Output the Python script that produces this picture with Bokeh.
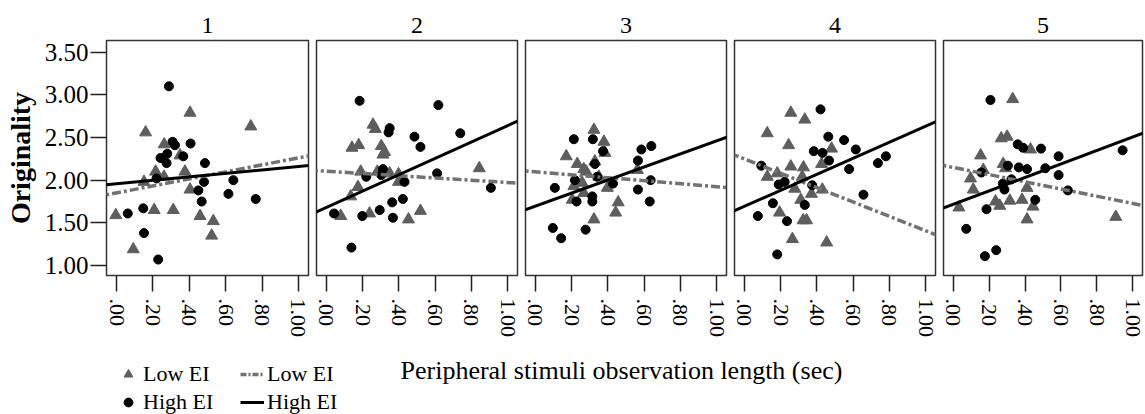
import math
from bokeh.plotting import figure
from bokeh.layouts import row, column
from bokeh.models import (Slope, FixedTicker, CustomJSTickFormatter, Label,
                          Legend, LegendItem, Range1d)
from bokeh.embed import file_html
from bokeh.resources import INLINE

# ---------------- data ----------------
panel_titles = ["1", "2", "3", "4", "5"]
x_ticks = [0.0, 0.2, 0.4, 0.6, 0.8, 1.0]
y_ticks = [1.0, 1.5, 2.0, 2.5, 3.0, 3.5]
x_label = "Peripheral stimuli observation length (sec)"
y_label = "Originality"
legend_labels = ["Low EI", "High EI"]

p1_high_x = [0.288, 0.062, 0.147, 0.151, 0.229, 0.220, 0.242, 0.279, 0.275, 0.308,
             0.321, 0.367, 0.407, 0.450, 0.468, 0.481, 0.486, 0.615, 0.642, 0.765]
p1_high_y = [3.10, 1.61, 1.67, 1.38, 1.07, 2.02, 2.26, 2.31, 2.20, 2.45,
             2.41, 2.28, 2.43, 1.88, 1.75, 1.98, 2.20, 1.84, 2.00, 1.78]
p1_low_x = [-0.004, 0.092, 0.160, 0.151, 0.215, 0.262, 0.261, 0.207, 0.312, 0.349,
            0.376, 0.404, 0.404, 0.459, 0.532, 0.523, 0.738]
p1_low_y = [1.59, 1.19, 2.56, 1.98, 2.10, 2.42, 2.04, 1.65, 1.65, 2.29,
            2.10, 2.79, 1.89, 1.58, 1.52, 1.35, 2.63]

p2_high_x = [0.183, 0.349, 0.343, 0.486, 0.519, 0.618, 0.739, 0.312, 0.220, 0.303,
             0.431, 0.611, 0.908, 0.042, 0.198, 0.294, 0.363, 0.422, 0.367, 0.138]
p2_high_y = [2.93, 2.61, 2.56, 2.51, 2.39, 2.88, 2.55, 2.13, 2.04, 2.06,
             1.98, 2.08, 1.91, 1.61, 1.58, 1.65, 1.74, 1.78, 1.56, 1.21]
p2_low_x = [0.257, 0.270, 0.141, 0.178, 0.303, 0.312, 0.321, 0.189, 0.281, 0.349,
            0.398, 0.398, 0.174, 0.134, 0.079, 0.238, 0.453, 0.519, 0.844]
p2_low_y = [2.65, 2.60, 2.38, 2.41, 2.40, 2.30, 2.33, 2.10, 2.10, 2.08,
            2.07, 1.98, 1.92, 1.81, 1.58, 1.61, 1.54, 1.64, 2.14]

p3_high_x = [0.212, 0.317, 0.373, 0.328, 0.107, 0.218, 0.341, 0.227, 0.314, 0.314,
             0.428, 0.585, 0.640, 0.566, 0.636, 0.566, 0.631, 0.096, 0.142, 0.277]
p3_high_y = [2.48, 2.48, 2.34, 2.19, 1.91, 2.00, 2.04, 1.75, 1.75, 1.81,
             1.96, 2.36, 2.40, 2.23, 2.00, 1.89, 1.75, 1.44, 1.32, 1.42]
p3_low_x = [0.323, 0.378, 0.384, 0.170, 0.231, 0.267, 0.280, 0.328, 0.258, 0.212,
            0.397, 0.350, 0.563, 0.203, 0.267, 0.457, 0.443, 0.323]
p3_low_y = [2.59, 2.45, 2.32, 2.28, 2.19, 2.13, 2.10, 2.22, 1.97, 1.93,
            1.91, 2.04, 2.12, 1.77, 1.85, 1.74, 1.62, 1.54]

p4_high_x = [0.420, 0.463, 0.550, 0.615, 0.383, 0.431, 0.467, 0.781, 0.737, 0.578,
             0.093, 0.222, 0.189, 0.374, 0.657, 0.157, 0.333, 0.074, 0.235, 0.181]
p4_high_y = [2.83, 2.51, 2.47, 2.36, 2.34, 2.32, 2.23, 2.28, 2.20, 2.13,
             2.17, 1.98, 1.95, 1.94, 1.83, 1.73, 1.71, 1.58, 1.52, 1.13]
p4_low_x = [0.256, 0.333, 0.126, 0.244, 0.481, 0.426, 0.256, 0.326, 0.181, 0.126,
            0.319, 0.278, 0.370, 0.430, 0.311, 0.194, 0.324, 0.343, 0.265, 0.454]
p4_low_y = [2.79, 2.71, 2.55, 2.41, 2.37, 2.19, 2.16, 2.15, 2.08, 2.04,
            2.04, 1.90, 1.84, 1.89, 1.77, 1.62, 1.53, 1.53, 1.31, 1.27]

p5_high_x = [0.207, 0.359, 0.389, 0.489, 0.587, 0.944, 0.304, 0.365, 0.411, 0.513,
             0.156, 0.324, 0.276, 0.285, 0.587, 0.639, 0.457, 0.185, 0.072, 0.239, 0.176]
p5_high_y = [2.94, 2.42, 2.38, 2.37, 2.28, 2.35, 2.17, 2.15, 2.13, 2.14,
             2.09, 2.01, 1.96, 1.89, 2.06, 1.88, 1.77, 1.66, 1.43, 1.18, 1.11]
p5_low_x = [0.331, 0.267, 0.300, 0.430, 0.152, 0.167, 0.096, 0.278, 0.291, 0.111,
            0.411, 0.235, 0.259, 0.315, 0.383, 0.444, 0.031, 0.411, 0.906]
p5_low_y = [2.95, 2.49, 2.51, 2.36, 2.29, 2.12, 2.02, 2.19, 2.14, 1.89,
            1.91, 1.75, 1.70, 1.76, 1.77, 1.69, 1.68, 1.54, 1.57]

# fitted lines per panel (intercept, slope)
high_intercept = [1.957, 1.680, 1.696, 1.694, 1.717]
high_slope = [0.203, 0.959, 0.764, 0.939, 0.788]
low_intercept = [1.851, 2.105, 2.099, 2.249, 2.149]
low_slope = [0.411, -0.132, -0.176, -0.841, -0.421]

high_x = [p1_high_x, p2_high_x, p3_high_x, p4_high_x, p5_high_x]
high_y = [p1_high_y, p2_high_y, p3_high_y, p4_high_y, p5_high_y]
low_x = [p1_low_x, p2_low_x, p3_low_x, p4_low_x, p5_low_x]
low_y = [p1_low_y, p2_low_y, p3_low_y, p4_low_y, p5_low_y]

# ---------------- style ----------------
SERIF = "Liberation Serif"
TRI_COLOR = "#5e5e5e"
DASH_COLOR = "#727272"
TOP_H = 340
BOT_H = 100
widths = [311, 209, 209, 209, 207]
left_borders = [106, 5, 5, 5, 5]
right_borders = [3, 3, 3, 3, 3]

fmt = CustomJSTickFormatter(code="return tick.toFixed(2).replace(/^0/, '');")

panels = []
for i in range(5):
    p = figure(width=widths[i], height=TOP_H,
               x_range=Range1d(-0.055, 1.055), y_range=Range1d(0.883, 3.637),
               output_backend="svg", toolbar_location=None,
               y_axis_location="left" if i == 0 else None,
               min_border_left=left_borders[i], min_border_right=right_borders[i],
               min_border_top=40, min_border_bottom=TOP_H - 276,
               title=panel_titles[i])
    p.title.align = "center"
    p.title.text_font = SERIF
    p.title.text_font_size = "24px"
    p.title.text_font_style = "normal"
    p.title.text_color = "black"
    p.title.standoff = 16
    p.grid.visible = False
    p.outline_line_color = "#333333"
    p.outline_line_width = 1.5
    p.background_fill_color = "white"
    p.border_fill_color = "white"

    xa = p.xaxis[0]
    xa.axis_label = None
    xa.ticker = FixedTicker(ticks=x_ticks)
    xa.formatter = fmt
    xa.major_label_orientation = -math.pi / 2
    xa.axis_line_color = None
    xa.major_tick_in = 0
    xa.major_tick_out = 16
    xa.major_tick_line_color = "#222222"
    xa.major_tick_line_width = 1.5
    xa.minor_tick_out = 0
    xa.minor_tick_in = 0
    xa.major_label_text_font = SERIF
    xa.major_label_text_font_size = "22px"
    xa.major_label_text_color = "black"
    xa.major_label_standoff = 7

    if i == 0:
        ya = p.yaxis[0]
        ya.ticker = FixedTicker(ticks=y_ticks)
        ya.formatter = fmt
        ya.axis_line_color = None
        ya.major_tick_in = 0
        ya.major_tick_out = 16
        ya.major_tick_line_color = "#222222"
        ya.major_tick_line_width = 1.5
        ya.minor_tick_out = 0
        ya.minor_tick_in = 0
        ya.major_label_text_font = SERIF
        ya.major_label_text_font_size = "25px"
        ya.major_label_text_color = "black"
        ya.major_label_standoff = 2
        ya.axis_label = y_label
        ya.axis_label_text_font = SERIF
        ya.axis_label_text_font_style = "bold"
        ya.axis_label_text_font_size = "28px"
        ya.axis_label_text_color = "black"
        ya.axis_label_standoff = 6

    p.scatter(low_x[i], low_y[i], marker="triangle", size=12,
              fill_color=TRI_COLOR, line_color=TRI_COLOR)
    p.scatter(high_x[i], high_y[i], marker="circle", size=9,
              fill_color="black", line_color="black")
    p.add_layout(Slope(gradient=low_slope[i], y_intercept=low_intercept[i],
                       line_color=DASH_COLOR, line_width=3.5, line_dash="9 3 3 3"))
    p.add_layout(Slope(gradient=high_slope[i], y_intercept=high_intercept[i],
                       line_color="black", line_width=3))
    panels.append(p)

# ---------------- bottom strip: x label + legend ----------------
b = figure(width=sum(widths), height=BOT_H, x_range=Range1d(0, 1), y_range=Range1d(0, 1),
           output_backend="svg", toolbar_location=None, title=None,
           x_axis_location=None, y_axis_location=None, min_border=0)
b.grid.visible = False
b.outline_line_color = None
b.border_fill_color = "white"
b.background_fill_color = "white"

# legend key renderers: a single placeholder point each, outside the visible range
key_x = [-5.0]
key_y = [-5.0]
r_tri = b.scatter(key_x, key_y, marker="triangle", size=11, fill_color=TRI_COLOR, line_color=TRI_COLOR)
r_cir = b.scatter(key_x, key_y, marker="circle", size=8, fill_color="black", line_color="black")
r_dash = b.line(key_x, key_y, line_color=DASH_COLOR, line_width=3.5, line_dash="6 2 2 2")
r_solid = b.line(key_x, key_y, line_color="black", line_width=3)

legend = Legend(items=[LegendItem(label=legend_labels[0], renderers=[r_tri]),
                       LegendItem(label=legend_labels[1], renderers=[r_cir]),
                       LegendItem(label=legend_labels[0], renderers=[r_dash]),
                       LegendItem(label=legend_labels[1], renderers=[r_solid])],
                ncols=2, location=(116, 25), padding=0, margin=0, spacing=2,
                glyph_width=24, glyph_height=22, label_standoff=3,
                label_width=95, label_height=25,
                border_line_color=None, background_fill_alpha=0,
                label_text_font=SERIF, label_text_font_size="22px",
                label_text_color="black")
b.add_layout(legend, "center")

b.add_layout(Label(x=400, y=70, x_units="screen", y_units="screen", text=x_label,
                   text_font=SERIF, text_font_size="26px", text_color="black",
                   text_align="left", text_baseline="alphabetic"))

layout = column(row(*panels, spacing=0), b, spacing=0)
open("out.html", "w").write(file_html(layout, INLINE))
